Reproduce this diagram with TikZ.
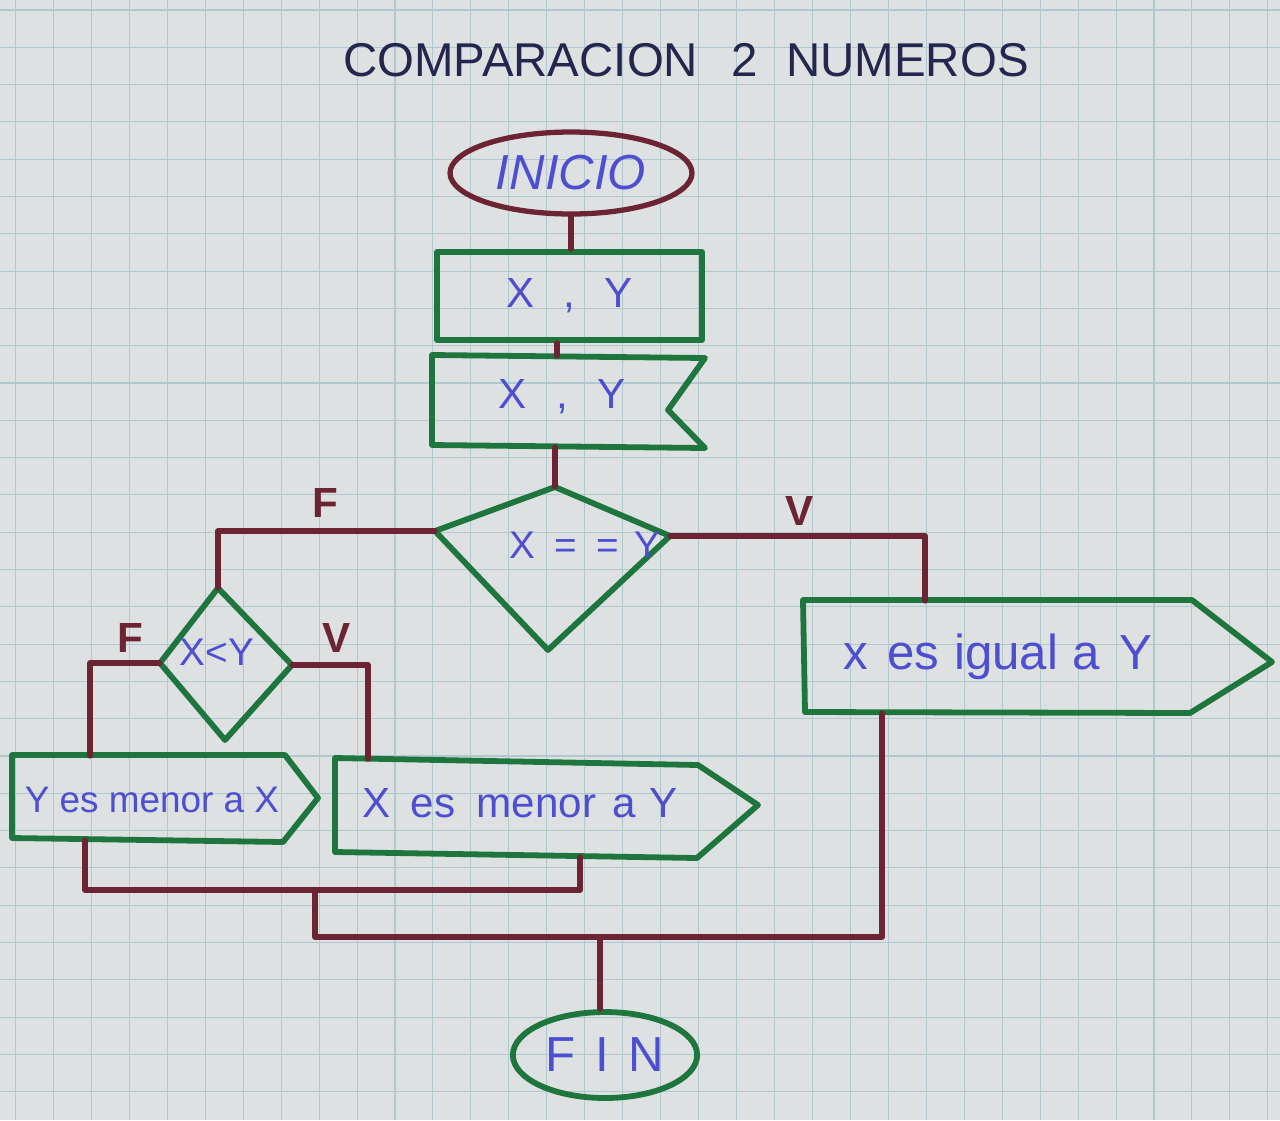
\documentclass[tikz,border=0pt]{standalone}
\usepackage{fontspec}
\setmainfont{Liberation Sans}
\usetikzlibrary{shapes.geometric}
\definecolor{paper}{RGB}{222,225,225}
\definecolor{gridc}{RGB}{178,200,207}
\definecolor{maroon}{RGB}{108,36,52}
\definecolor{pgreen}{RGB}{30,118,62}
\definecolor{ink}{RGB}{78,78,208}
\definecolor{navy}{RGB}{36,38,78}
\tikzset{
  conn/.style={draw=maroon, line width=2.9pt, line join=round, line cap=round},
  gshape/.style={draw=pgreen, line width=3.3pt, line join=round},
  txt/.style={text=ink, inner sep=0pt},
  lbl/.style={text=maroon, font=\bfseries\fontsize{24}{26}\selectfont, inner sep=0pt},
}
\begin{document}
\begin{tikzpicture}[x=0.02cm, y=-0.02cm]
\fill[paper] (0,0) rectangle (1280,1120);
\useasboundingbox (0,0) rectangle (1280,1120);
% grid
\foreach \k in {0,...,33} {\draw[gridc, line width=0.6pt] ({15.5+37.95*\k},0) -- ({15.5+37.95*\k},1120);}
\foreach \k in {0,...,30} {\draw[gridc, line width=0.6pt] (0,{10+37.3*\k}) -- (1280,{10+37.3*\k});}

% title
\node[text=navy, inner sep=0pt, font=\fontsize{27}{30}\selectfont] (title) at (686,60) {COMPARACION\hspace{0.7em}2\hspace{0.6em}NUMEROS};

% INICIO
\node[ellipse, draw=maroon, line width=3pt, minimum width=4.84cm, minimum height=1.64cm, text=ink,
      font=\itshape\fontsize{28}{30}\selectfont] (inicio) at (571,173) {INICIO};

% input 1
\node[rectangle, gshape, minimum width=5.3cm, minimum height=1.76cm, text=ink,
      font=\fontsize{24}{26}\selectfont] (in1) at (569.5,296) {X\hspace{0.7em},\hspace{0.7em}Y};

% input 2 (notched)
\draw[gshape] (432,355) -- (705,358) -- (668,410) -- (705,448) -- (432,445) -- cycle;
\node[txt, font=\fontsize{24}{26}\selectfont] (in2) at (562,397) {X\hspace{0.7em},\hspace{0.7em}Y};
\coordinate (in2t) at (557,356);
\coordinate (in2b) at (555,447);

% decision 1
\coordinate (d1t) at (555,487);
\coordinate (d1l) at (435,531);
\coordinate (d1r) at (670,536);
\coordinate (d1b) at (548,650);
\draw[gshape] (d1t) -- (d1r) -- (d1b) -- (d1l) -- cycle;
\node[txt, font=\fontsize{22}{24}\selectfont] (q1) at (585,545) {X\hspace{0.5em}=\hspace{0.5em}=\hspace{0.4em}Y};

% decision 2
\coordinate (d2t) at (218,588);
\coordinate (d2l) at (160,663);
\coordinate (d2r) at (292,665);
\coordinate (d2b) at (225,740);
\draw[gshape] (d2t) -- (d2r) -- (d2b) -- (d2l) -- cycle;
\node[txt, font=\fontsize{22}{24}\selectfont] (q2) at (217,652) {X<Y};

% output: Y es menor a X
\draw[gshape] (12,755) -- (285,755) -- (318,798) -- (283,842) -- (12,838) -- cycle;
\node[txt, font=\fontsize{21}{23}\selectfont] (o1) at (152,800) {Y es menor a X};
\coordinate (o1t) at (90,756);
\coordinate (o1b) at (85,840);

% output: X es menor a Y
\draw[gshape] (335,758) -- (698,765) -- (758,805) -- (697,858) -- (335,852) -- cycle;
\node[txt, font=\fontsize{24}{26}\selectfont] (o2) at (520,803) {X\hspace{0.2em} es\hspace{0.5em}menor\hspace{0.4em}a\hspace{0.3em}Y};
\coordinate (o2t) at (368,759);
\coordinate (o2b) at (580,857);

% output: x es igual a Y
\draw[gshape] (803,600) -- (1192,600) -- (1272,662) -- (1190,713) -- (805,712) -- cycle;
\node[txt, font=\fontsize{28}{30}\selectfont] (o3) at (998,657) {x\hspace{0.4em}es\hspace{0.3em}igual\hspace{0.3em}a\hspace{0.4em}Y};
\coordinate (o3t) at (925,601);
\coordinate (o3b) at (882,713);

% FIN
\node[ellipse, draw=pgreen, line width=3.3pt, minimum width=3.52cm, minimum height=1.72cm, text=ink,
      font=\fontsize{28}{30}\selectfont] (fin) at (605,1055) {F\hspace{0.4em}I\hspace{0.4em}N};

% joins
\coordinate (j1) at (580,890);
\coordinate (m1) at (315,890);
\coordinate (m2) at (315,937);
\coordinate (jf) at (600,937);

% connectors
\draw[conn] (inicio.south) -- (inicio.south |- in1.north);
\draw[conn] (in1.south -| in2t) -- (in2t);
\draw[conn] (in2b) -- (d1t);
\draw[conn] (d1l) -| (d2t);
\draw[conn] (d1r) -| (o3t);
\draw[conn] (d2l) -| (o1t);
\draw[conn] (d2r) -| (o2t);
\draw[conn] (o1b) |- (j1) -- (o2b);
\draw[conn] (m1) -- (m2) -| (o3b);
\draw[conn] (jf) -- (jf |- fin.north);

% labels
\node[lbl] (lf1) at (325,503) {F};
\node[lbl] (lv1) at (800,511) {V};
\node[lbl] (lf2) at (130,638) {F};
\node[lbl] (lv2) at (337,638) {V};
\end{tikzpicture}
\end{document}
